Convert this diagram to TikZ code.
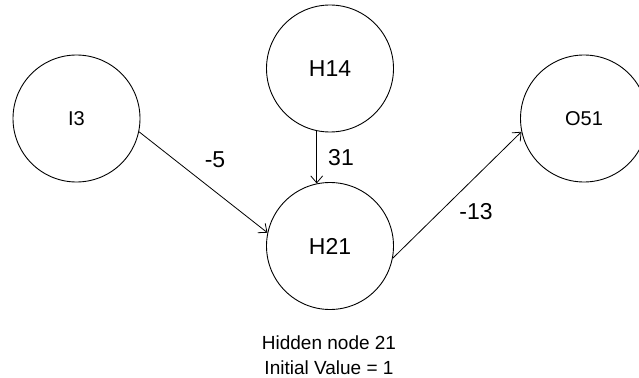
\documentclass[tikz,border=0pt]{standalone}
\usepackage{fontspec}
\setmainfont{Liberation Sans}
\usetikzlibrary{arrows.meta}
\tikzset{
  neuron/.style={circle, draw, line width=0.9pt, minimum size=127pt, inner sep=0pt},
  bigtxt/.style={font=\fontsize{23}{23}\selectfont},
  smalltxt/.style={font=\fontsize{20}{20}\selectfont},
  wlabel/.style={font=\fontsize{23}{23}\selectfont, inner sep=0pt},
  conn/.style={line width=0.8pt, -{Straight Barb[length=7pt, width=12pt, line width=0.8pt]}}
}
\begin{document}
\begin{tikzpicture}[x=1pt, y=-1pt]
\useasboundingbox (0,0) rectangle (639,377);
\node[neuron, smalltxt] (I3) at (76.5,118.5) {I3};
\node[neuron, bigtxt] (H14) at (330,68.5) {H14};
\node[neuron, bigtxt] (H21) at (330,246) {H21};
\node[neuron, smalltxt] (O51) at (584,118.5) {O51};
\draw[conn] (I3.-12) -- (H21.168);
\draw[conn] (H14.-102) -- (H21.102);
\draw[conn] (H21.-11) -- (O51.192);
\node[wlabel] (w1) at (215,160) {-5};
\node[wlabel] (w2) at (341,158) {31};
\node[wlabel] (w3) at (476,212) {-13};
\node[font=\fontsize{19}{25}\selectfont, align=center] (cap) at (329,355) {Hidden node 21\\Initial Value = 1};
\end{tikzpicture}
\end{document}
